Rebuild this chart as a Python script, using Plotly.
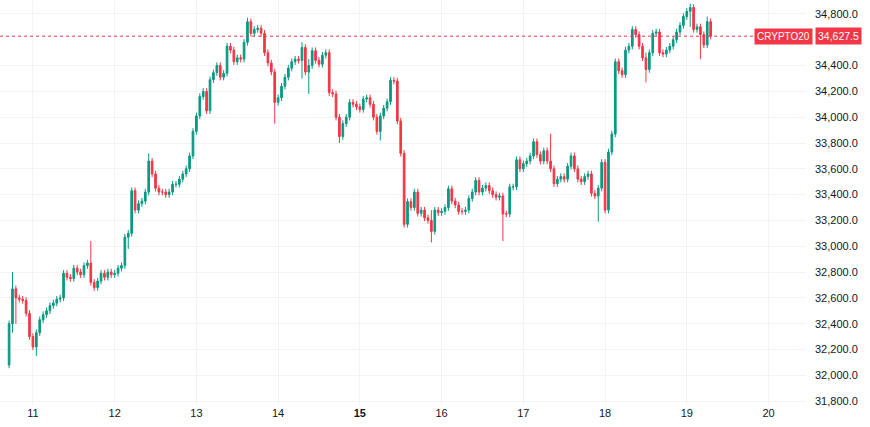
import pandas as pd
import plotly.graph_objects as go

# hourly closes, 10th 17:00 -> 19th 07:00
closes = [
    # 10th 17:00-23:00
    32400, 32670, 32600, 32590, 32580, 32480, 32300,
    # 11th
    32220, 32330, 32430, 32470, 32500, 32540, 32560, 32590, 32600, 32790, 32760, 32750,
    32830, 32800, 32780, 32850, 32870, 32720, 32680, 32730, 32790, 32760, 32800, 32780,
    # 12th
    32790, 32830, 32850, 33070, 33100, 33430, 33280, 33330, 33350, 33420, 33660, 33560,
    33450, 33420, 33420, 33400, 33420, 33480, 33480, 33520, 33560, 33600, 33700, 33890,
    # 13th
    34010, 34160, 34200, 34050, 34290, 34345, 34400, 34310, 34340, 34550, 34520, 34430,
    34460, 34450, 34580, 34740, 34650, 34680, 34690, 34650, 34500, 34420, 34350, 34115,
    # 14th
    34150, 34240, 34310, 34380, 34430, 34450, 34440, 34540, 34350, 34400, 34515, 34440,
    34410, 34480, 34500, 34190, 34180, 34000, 33850, 33950, 34000, 34115, 34100, 34080,
    # 15th
    34060, 34140, 34150, 34100, 34000, 33890, 34010, 34070, 34120, 34285, 34280, 33970,
    33720, 33170, 33345, 33300, 33420, 33255, 33280, 33220, 33200, 33115, 33280, 33260,
    # 16th
    33270, 33300, 33445, 33350, 33320, 33270, 33270, 33280, 33370, 33420, 33510, 33420,
    33450, 33470, 33430, 33400, 33380, 33390, 33250, 33250, 33460, 33460, 33670, 33600,
    # 17th
    33640, 33660, 33700, 33810, 33710, 33660, 33740, 33660, 33600, 33485, 33520, 33540,
    33520, 33620, 33700, 33600, 33520, 33500, 33540, 33560, 33410, 33390, 33450, 33650,
    # 18th
    33280, 33730, 33870, 34430, 34360, 34330, 34520, 34550, 34680, 34640, 34550, 34460,
    34370, 34500, 34650, 34660, 34500, 34490, 34520, 34550, 34600, 34660, 34710, 34780,
    # 19th 00:00-07:00
    34820, 34850, 34680, 34700, 34640, 34560, 34740, 34627.5,
]
first_open = 32080
# notable wicks: candle index -> (high, low)
wicks = {
    1: (32800, 32330), 2: (32670, 32400), 8: (32330, 32150), 24: (33040, 32700),
    35: (33100, 32980), 41: (33720, 33500), 70: (34770, 34600), 78: (34250, 33950),
    86: (34580, 34300), 88: (34450, 34180), 97: (33950, 33800), 109: (34000, 33820),
    124: (33280, 33030), 145: (33390, 33040), 159: (33870, 33640), 173: (33460, 33190),
    187: (34500, 34270), 200: (34880, 34700), 203: (34640, 34450), 205: (34780, 34560),
}

current = closes[-1]

opens = [first_open] + closes[:-1]
highs, lows = [], []
for i, (o, c) in enumerate(zip(opens, closes)):
    h, l = max(o, c) + 25, min(o, c) - 25
    if i in wicks:
        h, l = max(h, wicks[i][0]), min(l, wicks[i][1])
    highs.append(h)
    lows.append(l)

times = pd.date_range(end="2024-01-19 07:00", periods=len(closes), freq="h")

fig = go.Figure(go.Candlestick(
    x=times, open=opens, high=highs, low=lows, close=closes,
    increasing=dict(line=dict(color="#089981", width=1), fillcolor="#089981"),
    decreasing=dict(line=dict(color="#f23645", width=1), fillcolor="#f23645"),
    whiskerwidth=0, showlegend=False,
))

fig.add_hline(y=current, line=dict(color="#f23645", width=1, dash="dot"))

day_ticks = pd.date_range("2024-01-11", "2024-01-20", freq="D")
tick_text = [("<b>15</b>" if d.day == 15 else str(d.day)) for d in day_ticks]
y_ticks = [v for v in range(31800, 34801, 200) if v != 34600]

fig.update_layout(
    width=870, height=427,
    margin=dict(l=0, r=64, t=0, b=22),
    plot_bgcolor="white", paper_bgcolor="white",
    font=dict(family="Liberation Sans, Arial, sans-serif", size=11, color="#131722"),
    xaxis=dict(
        range=["2024-01-10 14:20", "2024-01-20 11:00"],
        tickvals=day_ticks, ticktext=tick_text, automargin=False,
        showgrid=True, gridcolor="#f3f3f3", rangeslider=dict(visible=False),
        showline=False, zeroline=False, ticks="",
    ),
    yaxis=dict(
        side="right", range=[31770, 34908], tickvals=y_ticks, tickformat=",.1f",
        automargin=False, ticklabelstandoff=8,
        showgrid=True, gridcolor="#f3f3f3", zeroline=False, ticks="",
    ),
    annotations=[
        dict(x=1.0, xref="paper", y=current, yref="y", xanchor="right", text="CRYPTO20",
             showarrow=False, bgcolor="#f23645", font=dict(color="white", size=10),
             borderpad=2, xshift=7),
        dict(x=1.0, xref="paper", y=current, yref="y", xanchor="left", text="34,627.5",
             showarrow=False, bgcolor="#f23645", font=dict(color="white", size=10.5),
             borderpad=2, xshift=9),
    ],
)

fig.write_html("out.html", config={"displayModeBar": False})

# drop the default page margin so the figure sits at the window's corner
with open("out.html", encoding="utf-8") as f:
    page = f.read()
page = page.replace("<body>", '<body style="margin:0">', 1)
with open("out.html", "w", encoding="utf-8") as f:
    f.write(page)
